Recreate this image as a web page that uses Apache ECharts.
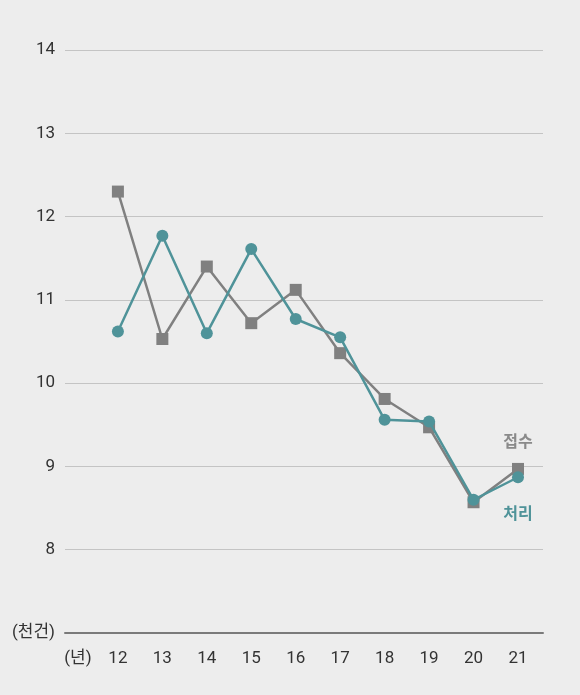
<!DOCTYPE html>
<html>
<head>
<meta charset="utf-8">
<script src="https://cdn.jsdelivr.net/npm/echarts@6/dist/echarts.min.js"></script>
<style>
  html, body { margin: 0; padding: 0; background: #ededed; }
  #chart { width: 580px; height: 695px; }
</style>
</head>
<body>
<div id="chart"></div>
<script>
  // 연도 (x), 접수 / 처리 건수 (천건)
  const years = [12, 13, 14, 15, 16, 17, 18, 19, 20, 21];
  const received = [12.30, 10.53, 11.40, 10.72, 11.12, 10.36, 9.81, 9.47, 8.57, 8.97];
  const processed = [10.62, 11.77, 10.60, 11.61, 10.77, 10.55, 9.56, 9.54, 8.60, 8.87];
  const yTicks = [7, 8, 9, 10, 11, 12, 13, 14];
  const xUnitPos = 11.1;   // "(년)" 표시 위치

  const font = 'Roboto, "Noto Sans CJK KR", sans-serif';
  const GRAY = '#808080';
  const TEAL = '#4f9399';

  function pairs(vals, lastLabel, color, offsetY) {
    return vals.map((v, i) => {
      const item = { value: [years[i], v] };
      if (i === vals.length - 1) {
        item.label = {
          show: true,
          position: 'inside',
          offset: [0, offsetY],
          formatter: lastLabel,
          color: color,
          fontFamily: font,
          fontSize: 16,
          fontWeight: 'bold'
        };
      }
      return item;
    });
  }

  const chart = echarts.init(document.getElementById('chart'));
  chart.setOption({
    backgroundColor: '#ededed',
    animation: false,
    grid: { left: 65, right: 37, top: 50, bottom: 62 },
    xAxis: {
      type: 'value',
      min: 10.81,
      max: 21.5625,
      axisLine: { show: true, lineStyle: { color: '#7a7a7a', width: 2 } },
      axisTick: { show: false },
      splitLine: { show: false },
      axisLabel: {
        customValues: [xUnitPos].concat(years),
        formatter: v => (v === xUnitPos ? '(년)' : String(v)),
        color: '#333',
        fontFamily: font,
        fontSize: 17,
        margin: 17
      }
    },
    yAxis: {
      type: 'value',
      min: yTicks[0],
      max: yTicks[yTicks.length - 1],
      interval: 1,
      axisLine: { show: false },
      axisTick: { show: false },
      splitLine: { lineStyle: { color: '#c4c4c4', width: 1 } },
      axisLabel: {
        formatter: v => (v === 7 ? '(천건)' : String(v)),
        color: '#333',
        fontFamily: font,
        fontSize: 17,
        margin: 10
      }
    },
    series: [
      {
        name: '접수',
        type: 'line',
        data: pairs(received, '접수', '#8a8a8a', -26),
        symbol: 'rect',
        symbolSize: 12,
        lineStyle: { color: GRAY, width: 2.5 },
        itemStyle: { color: GRAY },
        label: { show: false },
        z: 2
      },
      {
        name: '처리',
        type: 'line',
        data: pairs(processed, '처리', TEAL, 38),
        symbol: 'circle',
        symbolSize: 12,
        lineStyle: { color: TEAL, width: 2.5 },
        itemStyle: { color: TEAL },
        label: { show: false },
        z: 3
      }
    ]
  });
</script>
</body>
</html>
